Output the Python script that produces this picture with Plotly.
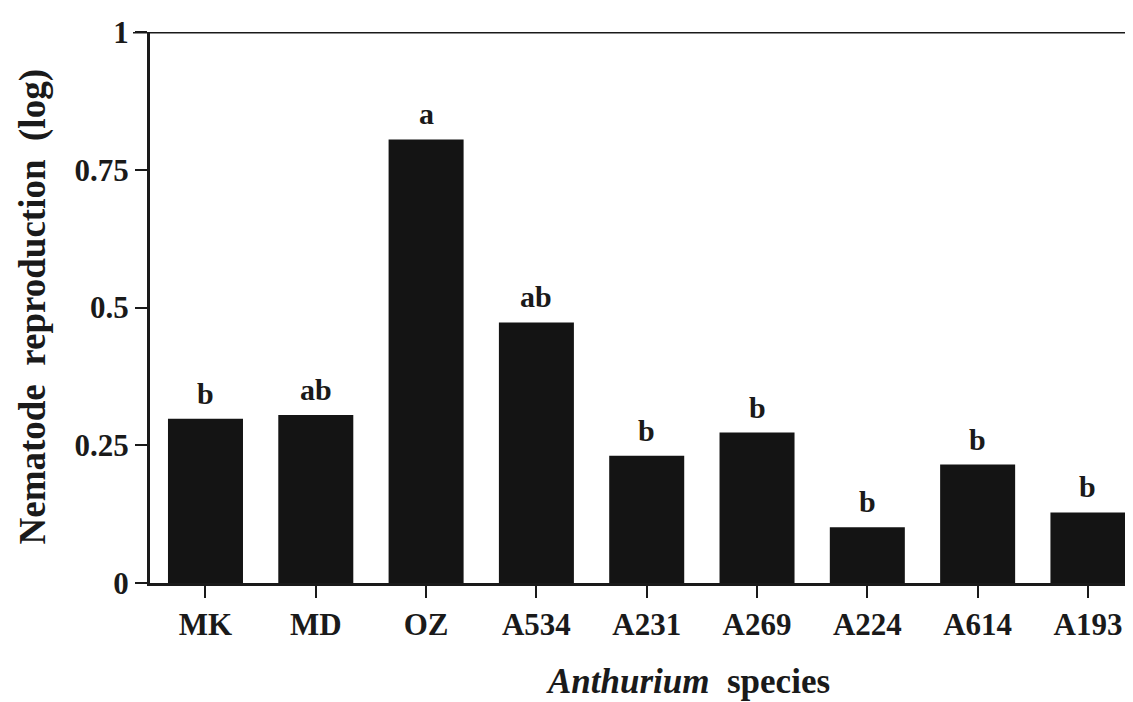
import plotly.graph_objects as go

species = ["MK", "MD", "OZ", "A534", "A231", "A269", "A224", "A614", "A193"]
reproduction = [0.298, 0.305, 0.805, 0.473, 0.231, 0.273, 0.101, 0.215, 0.128]
groups = ["b", "ab", "a", "ab", "b", "b", "b", "b", "b"]
y_ticks = [0, 0.25, 0.5, 0.75, 1]
y_tick_text = ["0", "0.25", "0.5", "0.75", "1"]

FONT = "Liberation Serif, Times New Roman, serif"
INK = "#1a1a1a"

# page has an 8px body margin, so the figure is drawn 8px smaller and offset
W, H = 1125, 694
L, R, T, B = 142, 7, 22, 119
PW = W - L - R
PH = H - T - B

fig = go.Figure()
fig.add_trace(go.Bar(
    x=list(range(len(species))),
    y=reproduction,
    width=0.68,
    marker=dict(color="#141414", line=dict(width=0)),
    showlegend=False,
))

for i, (v, g) in enumerate(zip(reproduction, groups)):
    fig.add_annotation(
        x=i, y=v, text=g, showarrow=False, yanchor="bottom", yshift=7,
        font=dict(family=FONT, size=30, color=INK, weight="bold"),
    )

fig.update_layout(
    width=W, height=H,
    margin=dict(l=L, r=R, t=T, b=B),
    plot_bgcolor="white", paper_bgcolor="white",
    xaxis=dict(
        range=[-0.503, 8.345],
        tickmode="array", tickvals=list(range(len(species))), ticktext=species,
        showline=True, linecolor=INK, linewidth=3,
        ticks="outside", ticklen=12, tickwidth=2, tickcolor=INK,
        tickfont=dict(family=FONT, size=31, color=INK, weight="bold"),
        showgrid=False, zeroline=False,
    ),
    yaxis=dict(
        range=[0, 1],
        tickmode="array", tickvals=y_ticks, ticktext=y_tick_text,
        showline=True, linecolor=INK, linewidth=3,
        ticks="outside", ticklen=12, tickwidth=2, tickcolor=INK,
        tickfont=dict(family=FONT, size=31, color=INK, weight="bold"),
        showgrid=False, zeroline=False,
    ),
)

# top frame line at y = 1
fig.add_shape(type="line", xref="paper", yref="y",
              x0=(125 - L) / PW, x1=(W - L) / PW, y0=1, y1=1,
              line=dict(color=INK, width=3))

fig.add_annotation(
    xref="paper", yref="paper", x=(24 - L) / PW, y=0.5,
    text="Nematode  reproduction  (log)", textangle=-90, showarrow=False,
    xanchor="center", yanchor="middle",
    font=dict(family=FONT, size=37, color=INK, weight="bold"),
)
fig.add_annotation(
    xref="paper", yref="paper", x=(680 - L) / PW, y=(PH + T - 674) / PH,
    text="<i>Anthurium</i>  species", showarrow=False,
    xanchor="center", yanchor="middle",
    font=dict(family=FONT, size=35, color=INK, weight="bold"),
)

fig.write_html("out.html")
